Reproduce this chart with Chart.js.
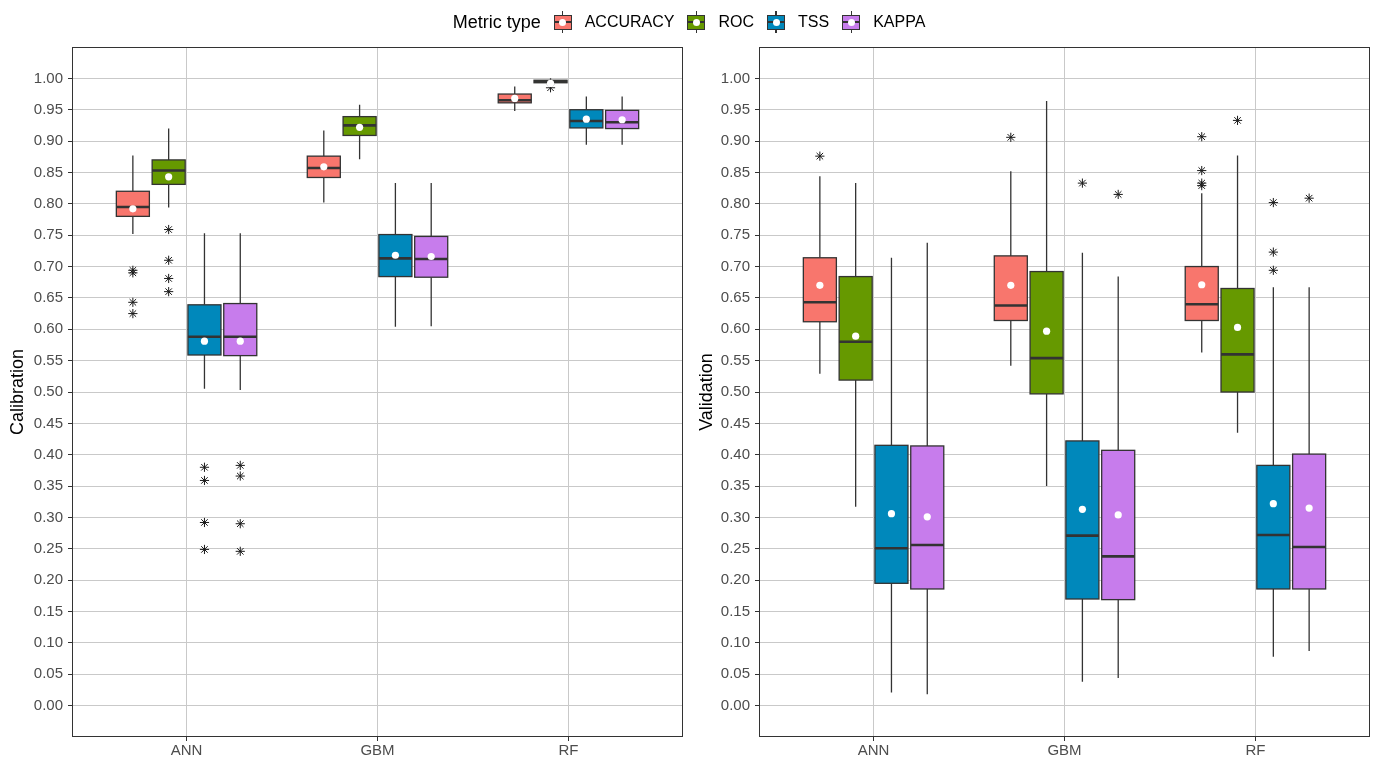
<!DOCTYPE html>
<html>
<head>
<meta charset="utf-8">
<script src="https://cdn.jsdelivr.net/npm/chart.js@4.4.1/dist/chart.umd.min.js"></script>
<style>
  html, body { margin: 0; padding: 0; background: #fff; }
  body { width: 1378px; height: 757px; position: relative; overflow: hidden;
         font-family: "Liberation Sans", Arial, sans-serif; }
  canvas { position: absolute; top: 0; }
  #calChart { left: 0; }
  #valChart { left: 689px; }
  #legend { position: absolute; left: 0; top: 10px; width: 1378px; height: 24px;
            display: flex; justify-content: center; align-items: center; gap: 13px; }
  .lg-title { font-size: 18px; color: #000; white-space: nowrap; }
  .lg-text { font-size: 16px; color: #000; white-space: nowrap; }
  .key { position: relative; width: 18px; height: 22px; flex: none; }
  .key .wh { position: absolute; left: 8.4px; top: 0; width: 1.3px; height: 22px; background: #333; }
  .key .bx { position: absolute; left: 0; top: 3.5px; width: 18px; height: 15px;
             box-sizing: border-box; border: 1.3px solid #333; }
  .key .md { position: absolute; left: 0; top: 10px; width: 18px; height: 2px; background: #333; }
  .key .pt { position: absolute; left: 5.5px; top: 7.5px; width: 7px; height: 7px;
             border-radius: 50%; background: #fff; }
</style>
</head>
<body>
<canvas id="calChart" width="689" height="757"></canvas>
<canvas id="valChart" width="689" height="757"></canvas>
<div id="legend"></div>
<script>
// Models on the x axis and the four evaluation metrics
const models = ['ANN', 'GBM', 'RF'];
const metrics = ['ACCURACY', 'ROC', 'TSS', 'KAPPA'];
const yTickValues = [0.00, 0.05, 0.10, 0.15, 0.20, 0.25, 0.30, 0.35, 0.40, 0.45, 0.50,
                     0.55, 0.60, 0.65, 0.70, 0.75, 0.80, 0.85, 0.90, 0.95, 1.00];

// Calibration: [lower whisker, Q1, median, Q3, upper whisker] for ANN, GBM, RF
const calAccuracy = [[0.752, 0.780, 0.795, 0.820, 0.877], [0.802, 0.842, 0.857, 0.876, 0.917], [0.948, 0.961, 0.965, 0.975, 0.987]];
const calRoc      = [[0.794, 0.831, 0.853, 0.870, 0.920], [0.871, 0.909, 0.925, 0.939, 0.958], [0.992, 0.993, 0.995, 0.997, 1.000]];
const calTss      = [[0.505, 0.559, 0.588, 0.639, 0.753], [0.604, 0.684, 0.713, 0.751, 0.833], [0.894, 0.921, 0.932, 0.950, 0.971]];
const calKappa    = [[0.503, 0.558, 0.588, 0.641, 0.753], [0.605, 0.683, 0.712, 0.748, 0.833], [0.894, 0.920, 0.930, 0.949, 0.971]];
// Calibration means
const calAccuracyMean = [0.792, 0.859, 0.968];
const calRocMean      = [0.843, 0.922, 0.992];
const calTssMean      = [0.581, 0.718, 0.935];
const calKappaMean    = [0.581, 0.716, 0.934];
// Calibration outliers
const calAccuracyOut = [[0.694, 0.690, 0.643, 0.625], [], []];
const calRocOut      = [[0.759, 0.710, 0.681, 0.660], [], [0.985]];
const calTssOut      = [[0.380, 0.359, 0.292, 0.249], [], []];
const calKappaOut    = [[0.383, 0.366, 0.290, 0.246], [], []];

// Validation: [lower whisker, Q1, median, Q3, upper whisker] for ANN, GBM, RF
const valAccuracy = [[0.529, 0.612, 0.643, 0.714, 0.844], [0.542, 0.614, 0.638, 0.717, 0.852], [0.563, 0.614, 0.640, 0.700, 0.817]];
const valRoc      = [[0.317, 0.519, 0.580, 0.684, 0.833], [0.350, 0.497, 0.554, 0.692, 0.964], [0.435, 0.500, 0.560, 0.665, 0.877]];
const valTss      = [[0.021, 0.195, 0.251, 0.415, 0.714], [0.038, 0.170, 0.271, 0.422, 0.722], [0.078, 0.186, 0.272, 0.383, 0.667]];
const valKappa    = [[0.018, 0.186, 0.256, 0.414, 0.738], [0.044, 0.169, 0.238, 0.407, 0.684], [0.087, 0.186, 0.253, 0.401, 0.667]];
// Validation means
const valAccuracyMean = [0.670, 0.670, 0.671];
const valRocMean      = [0.589, 0.597, 0.603];
const valTssMean      = [0.306, 0.313, 0.322];
const valKappaMean    = [0.301, 0.304, 0.315];
// Validation outliers
const valAccuracyOut = [[0.876], [0.906], [0.907, 0.853, 0.833, 0.829]];
const valRocOut      = [[], [], [0.933]];
const valTssOut      = [[], [0.833], [0.802, 0.723, 0.694]];
const valKappaOut    = [[], [0.815], [0.809]];

// Appearance
const metricColors = ['#F8766D', '#669900', '#0088BB', '#C77CEC'];
const dodge = [-0.28125, -0.09375, 0.09375, 0.28125];
const boxHalfWidth = 0.0865;
const inkColor = '#333333';
const gridColor = '#C9C9C9';
const tickTextColor = '#4D4D4D';
const fontFamily = '"Liberation Sans", Arial, sans-serif';

// Legend
const legendEl = document.getElementById('legend');
const lgTitle = document.createElement('span');
lgTitle.className = 'lg-title';
lgTitle.textContent = 'Metric type';
legendEl.appendChild(lgTitle);
metrics.forEach((name, m) => {
  const key = document.createElement('div');
  key.className = 'key';
  key.innerHTML = '<div class="wh"></div><div class="bx" style="background:' + metricColors[m] +
                  '"></div><div class="md"></div><div class="pt"></div>';
  legendEl.appendChild(key);
  const txt = document.createElement('span');
  txt.className = 'lg-text';
  txt.textContent = name;
  legendEl.appendChild(txt);
});

// Boxes and whiskers, drawn beneath the point datasets
const boxPlotPlugin = {
  id: 'boxPlot',
  beforeDatasetsDraw(chart, args, opts) {
    const { ctx, scales: { x, y } } = chart;
    ctx.save();
    ctx.beginPath();
    ctx.rect(chart.chartArea.left, chart.chartArea.top,
             chart.chartArea.right - chart.chartArea.left, chart.chartArea.bottom - chart.chartArea.top);
    ctx.clip();
    opts.boxes.forEach((series, m) => {
      series.forEach((stats, i) => {
        const xc = i + 1 + dodge[m];
        const px = x.getPixelForValue(xc);
        const pl = x.getPixelForValue(xc - boxHalfWidth);
        const pr = x.getPixelForValue(xc + boxHalfWidth);
        const [lo, q1, med, q3, hi] = stats.map(v => y.getPixelForValue(v));
        ctx.strokeStyle = inkColor;
        ctx.lineWidth = 1.3;
        ctx.beginPath();
        ctx.moveTo(px, lo); ctx.lineTo(px, q1);
        ctx.moveTo(px, q3); ctx.lineTo(px, hi);
        ctx.stroke();
        ctx.fillStyle = metricColors[m];
        ctx.fillRect(pl, q3, pr - pl, q1 - q3);
        ctx.strokeRect(pl, q3, pr - pl, q1 - q3);
        ctx.lineWidth = 2.6;
        ctx.beginPath();
        ctx.moveTo(pl, med); ctx.lineTo(pr, med);
        ctx.stroke();
      });
    });
    ctx.restore();
  },
  afterDatasetsDraw(chart) {
    const { ctx, chartArea: a } = chart;
    ctx.save();
    ctx.strokeStyle = inkColor;
    ctx.lineWidth = 1;
    ctx.strokeRect(Math.round(a.left) + 0.5, Math.round(a.top) + 0.5,
                   Math.round(a.right - a.left) - 1, Math.round(a.bottom - a.top) - 1);
    ctx.restore();
  }
};

function makePanel(canvasId, axisTitle, boxes, means, outliers, yAxisWidth, rightPad) {
  const datasets = [];
  means.forEach((vals, m) => {
    datasets.push({
      label: metrics[m] + ' mean',
      data: vals.map((v, i) => ({ x: i + 1 + dodge[m], y: v })),
      pointStyle: 'circle', pointRadius: 3.6, backgroundColor: '#FFFFFF', borderWidth: 0
    });
  });
  outliers.forEach((groups, m) => {
    datasets.push({
      label: metrics[m] + ' outliers',
      data: groups.flatMap((vals, i) => vals.map(v => ({ x: i + 1 + dodge[m], y: v }))),
      pointStyle: 'star', pointRadius: 4.6, borderColor: '#1A1A1A', borderWidth: 1,
      backgroundColor: 'rgba(0,0,0,0)'
    });
  });

  return new Chart(document.getElementById(canvasId), {
    type: 'scatter',
    data: { datasets },
    plugins: [boxPlotPlugin],
    options: {
      responsive: false,
      animation: false,
      events: [],
      layout: { padding: { top: 47, right: rightPad, bottom: 0, left: 0 } },
      plugins: {
        legend: { display: false },
        tooltip: { enabled: false },
        boxPlot: { boxes }
      },
      scales: {
        x: {
          type: 'linear', min: 0.4, max: 3.6,
          afterBuildTicks: s => { s.ticks = models.map((_, i) => ({ value: i + 1 })); },
          afterFit: s => { s.height = 20; },
          ticks: {
            callback: (v, i) => models[i],
            color: tickTextColor, font: { family: fontFamily, size: 15 },
            padding: 1, autoSkip: false, maxRotation: 0
          },
          grid: { color: gridColor, lineWidth: 1, tickColor: inkColor, tickLength: 4 },
          border: { display: false }
        },
        y: {
          type: 'linear', min: -0.05, max: 1.05,
          afterBuildTicks: s => { s.ticks = yTickValues.map(v => ({ value: v })); },
          afterFit: s => { s.width = yAxisWidth; },
          ticks: {
            callback: v => v.toFixed(2),
            color: tickTextColor, font: { family: fontFamily, size: 15 },
            padding: 5, autoSkip: false
          },
          grid: { color: gridColor, lineWidth: 1, tickColor: inkColor, tickLength: 4 },
          border: { display: false },
          title: {
            display: true, text: axisTitle, color: '#000000',
            font: { family: fontFamily, size: 18 }, padding: { top: 7, bottom: 0 }
          }
        }
      }
    }
  });
}

makePanel('calChart', 'Calibration',
  [calAccuracy, calRoc, calTss, calKappa],
  [calAccuracyMean, calRocMean, calTssMean, calKappaMean],
  [calAccuracyOut, calRocOut, calTssOut, calKappaOut],
  72, 6);

makePanel('valChart', 'Validation',
  [valAccuracy, valRoc, valTss, valKappa],
  [valAccuracyMean, valRocMean, valTssMean, valKappaMean],
  [valAccuracyOut, valRocOut, valTssOut, valKappaOut],
  70, 8);
</script>
</body>
</html>
